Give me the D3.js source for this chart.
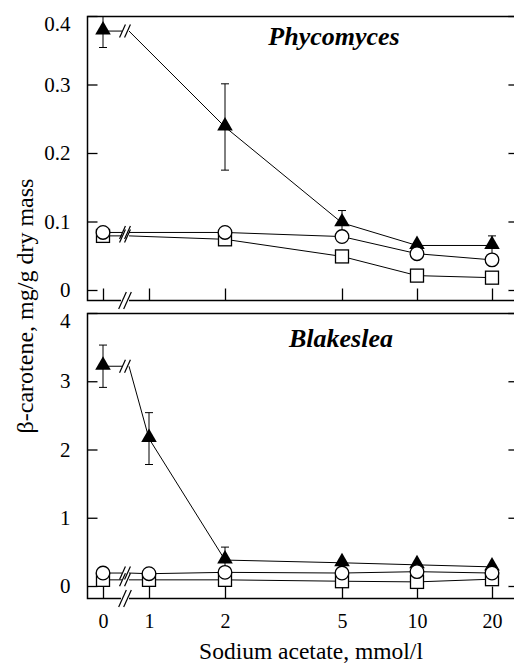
<!DOCTYPE html>
<html>
<head>
<meta charset="utf-8">
<script src="https://cdn.jsdelivr.net/npm/d3@7"></script>
<style>
  body { margin: 0; background: #fff; }
  svg text { font-family: "Liberation Serif", "DejaVu Serif", serif !important; fill: #000; }
</style>
</head>
<body>
<div id="chart"></div>
<script>
// sodium acetate doses (mmol/l) and their tick labels
var doses = [0, 1, 2, 5, 10, 20];
var dose_labels = ["0", "1", "2", "5", "10", "20"];

// Phycomyces (no sample at 1 mmol/l)
var phy_doses = [0, 2, 5, 10, 20];
var phy_triangle = [0.378, 0.238, 0.098, 0.065, 0.065];
var phy_triangle_err = [0.024, 0.063, 0.018, 0.004, 0.014];
var phy_circle = [0.084, 0.084, 0.078, 0.053, 0.044];
var phy_square = [0.079, 0.074, 0.049, 0.021, 0.018];
var phy_ticks = [0, 0.1, 0.2, 0.3, 0.4];

// Blakeslea
var bla_doses = [0, 1, 2, 5, 10, 20];
var bla_triangle = [3.22, 2.16, 0.38, 0.34, 0.31, 0.28];
var bla_triangle_err = [0.31, 0.38, 0.19, 0.03, 0.03, 0.03];
var bla_circle = [0.19, 0.18, 0.2, 0.19, 0.21, 0.19];
var bla_square = [0.09, 0.09, 0.09, 0.07, 0.06, 0.1];
var bla_ticks = [0, 1, 2, 3, 4];

var width = 514, height = 663;
var plot_left = 87, plot_right = 516;
var break_x = 125;
var serif = "Liberation Serif";

var svg = d3.select("#chart").append("svg")
            .attr("width", width)
            .attr("height", height);

// x positions are not linear nor log in the original, so use a polylinear scale
var x = d3.scaleLinear()
          .domain(doses)
          .range([103, 149, 225, 342, 417, 492]);

function draw_break(g, cx, cy, h) {
	var dx = h * 0.45;
	[-2.5, 2.5].forEach(function(off){
		g.append("line")
		 .attr("x1", cx + off - dx/2).attr("y1", cy + h/2)
		 .attr("x2", cx + off + dx/2).attr("y2", cy - h/2)
		 .attr("stroke", "#000").attr("stroke-width", 1.2);
	});
}

function draw_panel(opt) {
	var g = svg.append("g");
	var y = d3.scaleLinear().domain(opt.domain).range([opt.zero_y, opt.top]);

	// frame
	g.append("rect")
	 .attr("x", plot_left + 0.5).attr("y", opt.top + 0.5)
	 .attr("width", plot_right - plot_left).attr("height", opt.bottom - opt.top)
	 .attr("fill", "none").attr("stroke", "#000").attr("stroke-width", 1.5);

	var yl = g.append("g")
	          .attr("transform", "translate(" + (plot_left + 0.5) + ",0)")
	          .call(d3.axisLeft(y).tickValues(opt.ticks).tickSize(-10).tickPadding(17).tickFormat(opt.fmt));
	yl.selectAll(".tick text").attr("font-size", 21);
	// top tick coincides with the frame; its label sits a little lower
	yl.selectAll(".tick").filter(function(d){ return d == opt.domain[1]; })
	  .select("text").attr("transform", "translate(0,8)");

	g.append("g")
	 .attr("transform", "translate(" + (plot_right + 0.5) + ",0)")
	 .call(d3.axisRight(y).tickValues(opt.ticks).tickSize(-8).tickFormat(""));

	var xa = g.append("g")
	          .attr("transform", "translate(0," + (opt.bottom + 0.5) + ")")
	          .call(d3.axisBottom(x).tickValues(doses).tickSize(-12).tickPadding(15)
	                 .tickFormat(function(d, i){ return opt.show_x ? dose_labels[i] : ""; }));
	xa.selectAll(".tick text").attr("font-size", 20);

	g.selectAll(".domain").remove();
	g.selectAll(".tick line").attr("stroke", "#000").attr("stroke-width", 1.3);
	g.selectAll(".tick text").attr("fill", "#000").attr("font-family", serif);

	// axis break on the bottom frame
	var ab = g.append("g");
	ab.append("rect").attr("x", break_x - 4).attr("y", opt.bottom - 1).attr("width", 8).attr("height", 3).attr("fill", "#fff");
	draw_break(ab, break_x, opt.bottom + 0.5, 17);

	// series
	var series = [
		{vals: opt.triangle, type: "triangle"},
		{vals: opt.square, type: "square"},
		{vals: opt.circle, type: "circle"}
	];
	var line = d3.line().x(function(d){ return d[0]; }).y(function(d){ return d[1]; });

	series.forEach(function(s){
		var pts = opt.doses.map(function(d, i){ return [x(d), y(s.vals[i])]; });
		var y0 = pts[0][1];
		g.append("path")
		 .attr("d", line([pts[0], [break_x - 3, y0]]))
		 .attr("fill", "none").attr("stroke", "#000").attr("stroke-width", 1);
		g.append("path")
		 .attr("d", line([[break_x + 4, y0]].concat(pts.slice(1))))
		 .attr("fill", "none").attr("stroke", "#000").attr("stroke-width", 1);
		draw_break(g, break_x, y0, 13);
	});

	// error bars of the triangle series
	opt.doses.forEach(function(d, i){
		var v = opt.triangle[i], e = opt.triangle_err[i];
		var cx = x(d);
		var y1 = Math.max(y(v + e), opt.top), y2 = y(v - e);
		g.append("line").attr("x1", cx).attr("x2", cx).attr("y1", y1).attr("y2", y2)
		 .attr("stroke", "#000").attr("stroke-width", 1);
		[y1, y2].forEach(function(yy){
			if (yy <= opt.top + 1) return;
			g.append("line").attr("x1", cx - 4).attr("x2", cx + 4).attr("y1", yy).attr("y2", yy)
			 .attr("stroke", "#000").attr("stroke-width", 1);
		});
	});

	// markers
	var tri = d3.symbol().type(d3.symbolTriangle).size(105);
	series.forEach(function(s){
		opt.doses.forEach(function(d, i){
			var cx = x(d), cy = y(s.vals[i]);
			if (s.type == "triangle") {
				g.append("path").attr("d", tri())
				 .attr("transform", "translate(" + cx + "," + (cy - 1) + ")")
				 .attr("fill", "#000");
			} else if (s.type == "square") {
				g.append("rect").attr("x", cx - 6.5).attr("y", cy - 6.5).attr("width", 13).attr("height", 13)
				 .attr("fill", "#fff").attr("stroke", "#000").attr("stroke-width", 1.3);
			} else {
				g.append("circle").attr("cx", cx).attr("cy", cy).attr("r", 6.8)
				 .attr("fill", "#fff").attr("stroke", "#000").attr("stroke-width", 1.3);
			}
		});
	});

	g.append("text")
	 .attr("x", opt.title_x).attr("y", opt.title_y)
	 .attr("text-anchor", "middle")
	 .attr("font-family", serif).attr("font-size", 26)
	 .attr("font-weight", "bold").attr("font-style", "italic")
	 .text(opt.title);
}

draw_panel({
	top: 16, bottom: 300, zero_y: 290, domain: [0, 0.4],
	ticks: phy_ticks, fmt: function(d){ return d == 0 ? "0" : d3.format(".1f")(d); },
	doses: phy_doses, triangle: phy_triangle, triangle_err: phy_triangle_err,
	circle: phy_circle, square: phy_square,
	title: "Phycomyces", title_x: 334, title_y: 45, show_x: false
});

draw_panel({
	top: 313, bottom: 598, zero_y: 586, domain: [0, 4],
	ticks: bla_ticks, fmt: d3.format("d"),
	doses: bla_doses, triangle: bla_triangle, triangle_err: bla_triangle_err,
	circle: bla_circle, square: bla_square,
	title: "Blakeslea", title_x: 341, title_y: 347, show_x: true
});

svg.append("text")
   .attr("transform", "translate(33,306) rotate(-90)")
   .attr("text-anchor", "middle")
   .attr("font-family", serif).attr("font-size", 24)
   .text("β-carotene, mg/g dry mass");

svg.append("text")
   .attr("x", 311).attr("y", 659)
   .attr("text-anchor", "middle")
   .attr("font-family", serif).attr("font-size", 23.5)
   .text("Sodium acetate, mmol/l");
</script>
</body>
</html>
